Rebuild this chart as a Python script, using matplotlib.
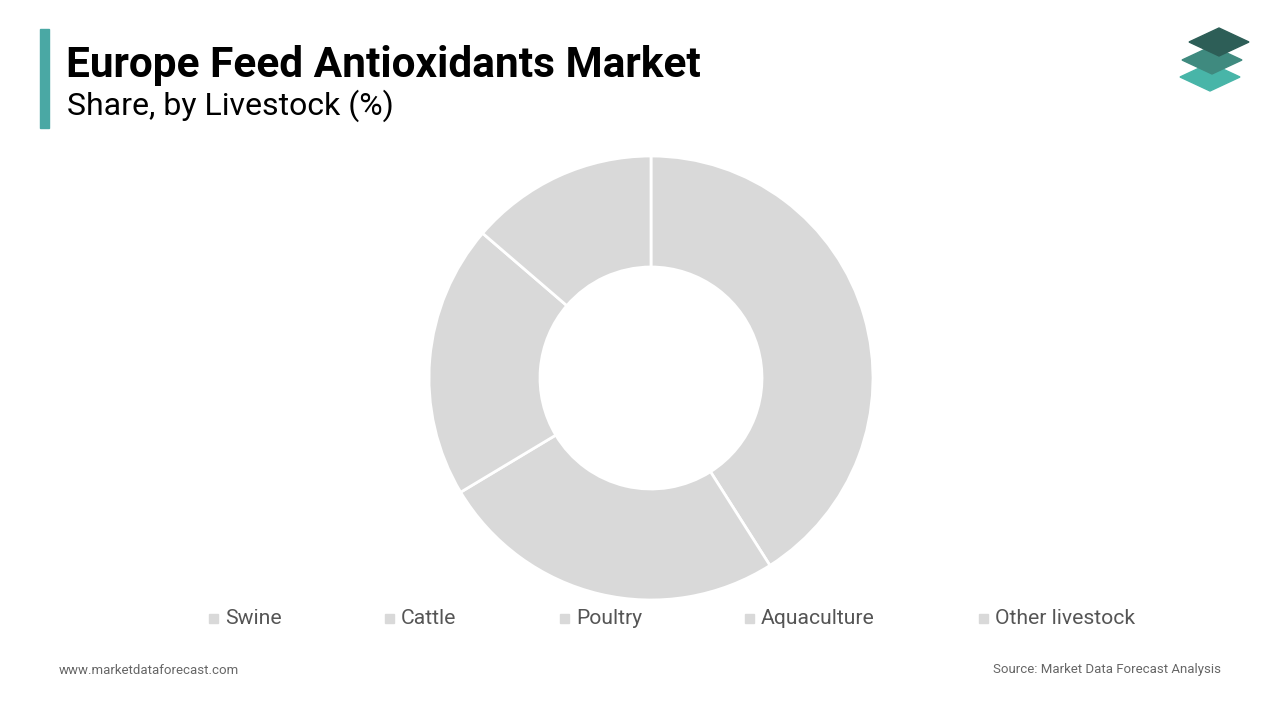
import matplotlib
matplotlib.use("Agg")
import matplotlib.pyplot as plt
from matplotlib.patches import Rectangle, Polygon

categories = ["Swine", "Cattle", "Poultry", "Aquaculture", "Other livestock"]
shares = [41.0, 25.4, 19.9, 13.7, 0.0]
colors = ["#d9d9d9"] * 5

fig = plt.figure(figsize=(12.8, 7.2), dpi=100)
fig.patch.set_facecolor("white")

fig.add_artist(Rectangle((40/1280, 1-128/720), 9/1280, 99/720, transform=fig.transFigure, color="#4aa8a4"))
fig.text(66/1280, 1-65/720, "Europe Feed Antioxidants Market", fontsize=30.5, fontweight="bold",
         family="Roboto", va="center", ha="left")
fig.text(67/1280, 1-106/720, "Share, by Livestock (%)", fontsize=23, family="Roboto", va="center", ha="left")

def para(cx, cy, color):
    w, h = 30/1280, 14/720
    fig.add_artist(Polygon([(cx-w, cy), (cx, cy+h), (cx+w, cy), (cx, cy-h)], closed=True,
                           transform=fig.transFigure, color=color))
para(1210/1280, 1-77/720, "#48b5a8")
para(1212/1280, 1-60/720, "#3f8a7f")
para(1219/1280, 1-42/720, "#2d5e57")

ax = fig.add_axes([(651-222)/1280, 1-(378+222)/720, 444/1280, 444/720])
vals = [v for v in shares if v > 0]
ax.pie(vals, colors=colors[:len(vals)], startangle=90, counterclock=False, radius=1,
       wedgeprops=dict(width=0.5, edgecolor="white", linewidth=2))
ax.set_xlim(-1, 1); ax.set_ylim(-1, 1)
ax.set_aspect("equal")
ax.axis("off")

xs = [214, 390, 565, 750, 984]
for x, c, col in zip(xs, categories, colors):
    fig.add_artist(Rectangle(((x-5)/1280, 1-623/720), 9/1280, 9/720, transform=fig.transFigure, color=col))
    fig.text((x+11)/1280, 1-619/720, c, fontsize=15.2, color="#555555", family="Roboto", va="center", ha="left")

fig.text(59/1280, 1-670/720, "www.marketdataforecast.com", fontsize=9.5, color="#666666", family="Roboto", va="center")
fig.text(1221/1280, 1-670/720, "Source: Market Data Forecast Analysis", fontsize=9.5, color="#666666",
         family="Roboto", va="center", ha="right")

fig.savefig("out.png", dpi=100)
